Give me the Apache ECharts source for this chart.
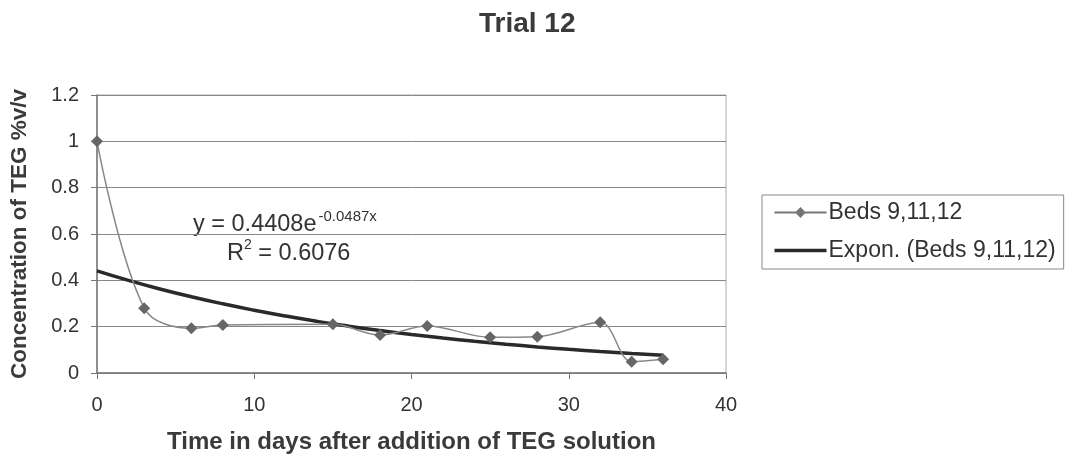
<!DOCTYPE html>
<html>
<head>
<meta charset="utf-8">
<script src="https://cdn.jsdelivr.net/npm/echarts@6/dist/echarts.min.js"></script>
<style>
html,body{margin:0;padding:0;background:#fff;}
#chart{width:1067px;height:462px;}
</style>
</head>
<body>
<div id="chart"></div>
<script>
// Data
var days = [0, 3, 6, 8, 15, 18, 21, 25, 28, 32, 34, 36];
var concentration = [1.0, 0.28, 0.193, 0.207, 0.21, 0.164, 0.203, 0.154, 0.157, 0.219, 0.049, 0.059];
// Exponential trendline coefficients shown on the chart: y = a * e^(b x)
var trendA = 0.4408;
var trendB = -0.0487;
var trendX = [0, 2, 4, 6, 8, 10, 12, 14, 16, 18, 20, 22, 24, 26, 28, 30, 32, 34, 36];
var yTicks = [0, 0.2, 0.4, 0.6, 0.8, 1, 1.2];
var xTicks = [0, 10, 20, 30, 40];

var seriesData = days.map(function (d, i) { return [d, concentration[i]]; });
var trendData = trendX.map(function (x) { return [x, trendA * Math.exp(trendB * x)]; });

var FONT = '"Liberation Sans", Arial, sans-serif';
var chart = echarts.init(document.getElementById('chart'), null, {renderer: 'canvas'});
chart.setOption({
  backgroundColor: '#ffffff',
  animation: false,
  title: {
    text: 'Trial 12',
    left: 474, top: 5,
    textStyle: {fontFamily: FONT, fontSize: 28, fontWeight: 'bold', color: '#3a3a3a'}
  },
  legend: {
    orient: 'vertical',
    left: 762, top: 195,
    padding: [6, 8, 7, 10],
    itemGap: 15,
    itemWidth: 52, itemHeight: 12,
    borderColor: '#888', borderWidth: 1,
    textStyle: {fontFamily: FONT, fontSize: 23, color: '#333', padding: [0, 0, 0, -3]},
    data: [
      {name: 'Beds 9,11,12', icon: 'path://M0,6 L22,6 L26,2 L30,6 L26,10 L22,6 L30,6 L52,6', itemStyle: {color: '#666', borderColor: '#777', borderWidth: 2}},
      {name: 'Expon. (Beds 9,11,12)', icon: 'path://M0,2 L0,2 M0,6 L52,6 M52,10 L52,10', itemStyle: {color: 'none', borderColor: '#2a2a2a', borderWidth: 3.5}}
    ]
  },
  grid: {left: 95, right: 341, top: 95, bottom: 89, show: true, borderColor: '#aaa', borderWidth: 1},
  xAxis: {
    type: 'value', min: 0, max: 40, interval: 10,
    name: 'Time in days after addition of TEG solution',
    nameLocation: 'middle', nameGap: 57,
    nameTextStyle: {fontFamily: FONT, fontSize: 24, fontWeight: 'bold', color: '#3a3a3a'},
    axisLine: {show: true, lineStyle: {color: '#777', width: 1.5}},
    axisTick: {show: true, length: 6, lineStyle: {color: '#777'}},
    axisLabel: {fontFamily: FONT, fontSize: 20, color: '#333', margin: 22},
    splitLine: {show: false}
  },
  yAxis: {
    type: 'value', min: 0, max: 1.2, interval: 0.2,
    name: 'Concentration of TEG %v/v',
    nameLocation: 'middle', nameGap: 66, nameRotate: 90,
    nameTextStyle: {fontFamily: FONT, fontSize: 22.5, fontWeight: 'bold', color: '#3a3a3a'},
    axisLine: {show: true, lineStyle: {color: '#777', width: 1.5}},
    axisTick: {show: true, length: 6, lineStyle: {color: '#777'}},
    axisLabel: {fontFamily: FONT, fontSize: 20, color: '#333', margin: 18},
    splitLine: {show: true, lineStyle: {color: '#888', width: 1}}
  },
  series: [
    {
      name: 'Beds 9,11,12',
      type: 'line',
      data: seriesData,
      smooth: 0.35,
      symbol: 'diamond',
      symbolSize: 12,
      itemStyle: {color: '#666'},
      lineStyle: {color: '#888', width: 1.5},
      z: 3
    },
    {
      name: 'Expon. (Beds 9,11,12)',
      type: 'line',
      data: trendData,
      smooth: true,
      symbol: 'none',
      itemStyle: {color: '#2a2a2a'},
      lineStyle: {color: '#2a2a2a', width: 3.5},
      z: 2
    }
  ],
  graphic: [
    {
      type: 'text', left: 193, top: 209,
      style: {
        text: '{a|y = 0.4408e}{s|-0.0487x}',
        rich: {
          a: {fontFamily: FONT, fontSize: 23.5, fill: '#333', verticalAlign: 'bottom', lineHeight: 28},
          s: {fontFamily: FONT, fontSize: 15, fill: '#333', verticalAlign: 'top', lineHeight: 28, padding: [0, 0, 16, 2]}
        }
      }
    },
    {
      type: 'text', left: 227, top: 238,
      style: {
        text: '{a|R}{s|2}{a| = 0.6076}',
        rich: {
          a: {fontFamily: FONT, fontSize: 23.5, fill: '#333', verticalAlign: 'bottom', lineHeight: 28},
          s: {fontFamily: FONT, fontSize: 14, fill: '#333', verticalAlign: 'top', lineHeight: 28, padding: [0, 0, 16, 0]}
        }
      }
    }
  ]
});
</script>
</body>
</html>
